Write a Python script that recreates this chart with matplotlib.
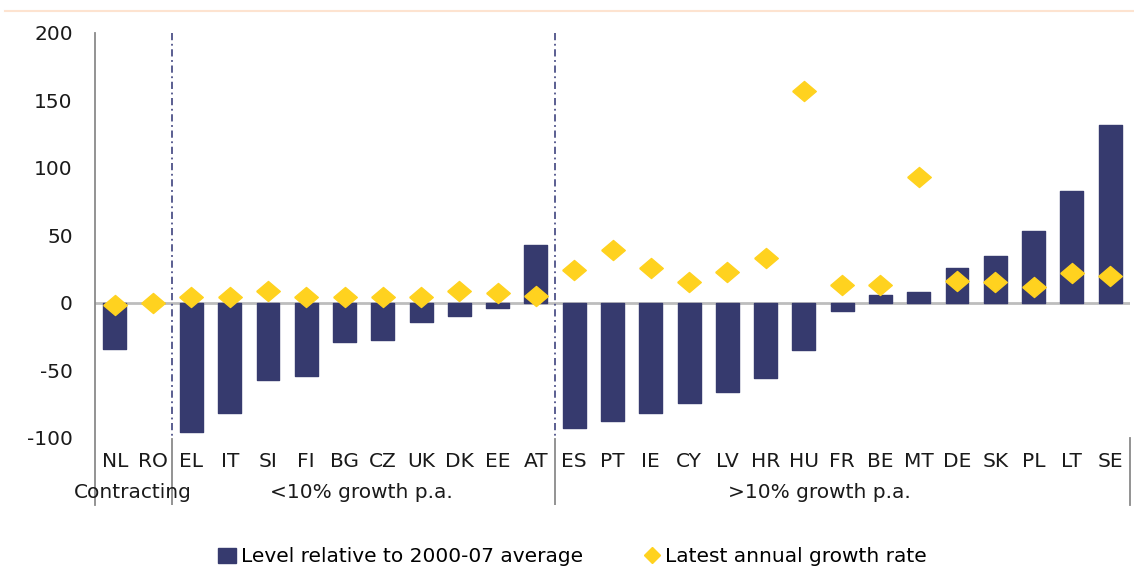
import numpy as np
import matplotlib.pyplot as plt
from matplotlib.lines import Line2D
from matplotlib.patches import Patch

plt.rcParams['font.family'] = ['DejaVu Sans']

# data
countries = ['NL', 'RO', 'EL', 'IT', 'SI', 'FI', 'BG', 'CZ', 'UK', 'DK', 'EE', 'AT',
             'ES', 'PT', 'IE', 'CY', 'LV', 'HR', 'HU', 'FR', 'BE', 'MT', 'DE', 'SK',
             'PL', 'LT', 'SE']
level = [-34, 0, -96, -82, -57, -54, -29, -28, -14, -10, -4, 43,
         -93, -88, -82, -74, -66, -56, -35, -6, 6, 8, 26, 35,
         53, 83, 132]
growth = [-2, 0, 4, 4, 9, 4, 4, 4, 4, 9, 7, 5,
          24, 39, 26, 15, 23, 33, 157, 13, 13, 93, 16, 15,
          12, 22, 20]
groups = ['Contracting', '<10% growth p.a.', '>10% growth p.a.']
group_centers = [0.47, 6.45, 18.4]
separators = [1.5, 11.5]

navy = '#363a6e'
gold = '#ffd21f'
x = np.arange(len(countries))

fig = plt.figure(figsize=(11.34, 5.67), dpi=100)
ax = fig.add_axes([95 / 1134, 1 - 505 / 567, 1035 / 1134, 472 / 567])
xl, xr = -0.52, 26.52
ax.set_xlim(xl, xr)
ax.set_ylim(-150, 200)

ax.axhline(0, color='#bdbdbd', lw=2, zorder=1)
ax.bar(x, level, width=0.6, color=navy, edgecolor=navy, lw=1,
       joinstyle='round', zorder=2)
diamond = [(-1, 0), (0, 0.85), (1, 0), (0, -0.85), (-1, 0)]
ax.plot(x, growth, linestyle='none', marker=diamond, markersize=17,
        color=gold, zorder=3)

# axes furniture
for s in ax.spines.values():
    s.set_visible(False)
ax.plot([xl, xl], [-150, 200], color='#8a8a8a', lw=1.3, clip_on=False)
ax.plot([xr, xr], [-100, -150], color='#8a8a8a', lw=1.3, clip_on=False)
for sx in separators:
    ax.plot([sx, sx], [200, -101], color='#4d5288', lw=1.3,
            linestyle=(0, (4, 2, 1, 2)))
    ax.plot([sx, sx], [-101, -150], color='#8a8a8a', lw=1.3)

ax.set_xticks([])
ax.set_yticks(np.arange(-100, 201, 50))
ax.set_yticklabels([str(v) for v in range(-100, 201, 50)])
ax.tick_params(axis='y', length=0, pad=16, labelsize=14.5, labelcolor='#1a1a1a')

for xi, c in zip(x, countries):
    ax.text(xi, -118, c, ha='center', va='center', fontsize=14.5, color='#1a1a1a')
for gx, g in zip(group_centers, groups):
    ax.text(gx, -141, g, ha='center', va='center', fontsize=14.5, color='#1a1a1a')

# peach rule at the top
fig.add_artist(Line2D([5 / 1134, 1], [1 - 11 / 567] * 2, color='#fde3d0', lw=1.5))

handles = [Patch(color=navy),
           Line2D([], [], linestyle='none', marker='D', markersize=8, color=gold)]
fig.legend(handles, ['Level relative to 2000-07 average', 'Latest annual growth rate'],
           loc='center', bbox_to_anchor=(0.505, 1 - 557 / 567), ncol=2, frameon=False,
           fontsize=14.5, handlelength=0.9, handletextpad=0.2, columnspacing=3.0)

fig.savefig('out.png', dpi=100)
